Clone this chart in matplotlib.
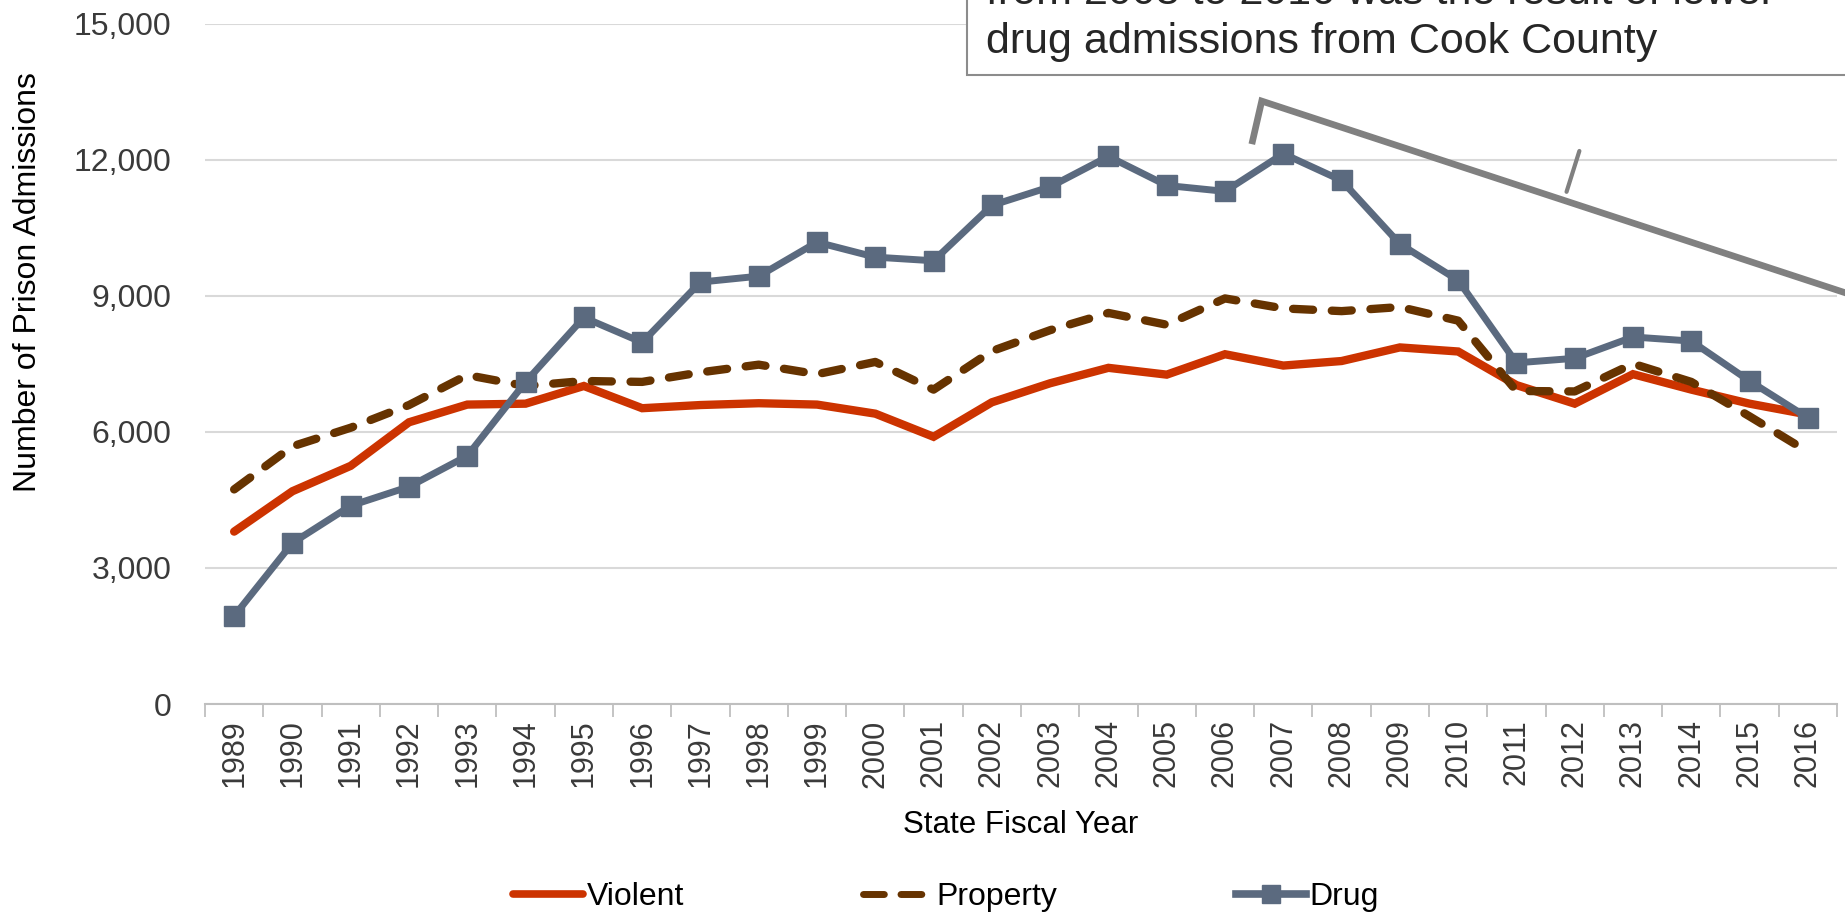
import numpy as np
import matplotlib
matplotlib.use('Agg')
import matplotlib.pyplot as plt
from matplotlib.lines import Line2D
from matplotlib.patches import Rectangle

plt.rcParams['font.family'] = ['Liberation Sans', 'DejaVu Sans']

years = list(range(1989, 2017))
violent = [3800, 4690, 5250, 6210, 6600, 6620, 7010, 6520, 6590, 6630, 6600, 6400, 5890, 6650, 7070,
           7410, 7260, 7710, 7460, 7560, 7860, 7770, 7030, 6620, 7270, 6930, 6620, 6380]
prop = [4730, 5680, 6090, 6590, 7250, 7010, 7120, 7100, 7310, 7480, 7270, 7540, 6930, 7780, 8240,
        8620, 8360, 8940, 8720, 8660, 8750, 8450, 6900, 6890, 7500, 7100, 6340, 5560]
drug = [1940, 3550, 4370, 4790, 5470, 7100, 8520, 7970, 9300, 9430, 10180, 9850, 9770, 10990, 11400,
        12070, 11430, 11300, 12130, 11540, 10140, 9340, 7520, 7620, 8090, 8000, 7120, 6310]
yticks = [0, 3000, 6000, 9000, 12000, 15000]
note_lines = ["from 2008 to 2016 was the result of lower", "drug admissions from Cook County"]

c_violent = "#CC3300"
c_prop = "#663300"
c_drug = "#5B6A7F"
tick_col = "#3a3a3a"

fig = plt.figure(figsize=(18.45, 9.15), dpi=100)
ax = fig.add_axes([205/1845, 1-704/915, (1837-205)/1845, (704-23.5)/915])

ax.plot(years, violent, color=c_violent, lw=6, solid_capstyle='round', solid_joinstyle='miter', zorder=3)
ax.plot(years, prop, color=c_prop, lw=6, dashes=(2.4, 2.25), dash_capstyle='round', zorder=3)
ax.plot(years, drug, color=c_drug, lw=5, marker='s', markersize=14, zorder=4)

ax.set_xlim(1988.5, 2016.5)
ax.set_ylim(0, 15000)
ax.set_yticks(yticks)
ax.set_yticklabels(["{:,}".format(v) for v in yticks])
ax.set_xticks(years)
ax.set_xticklabels([str(y) for y in years], rotation=90)
ax.set_xticks(np.arange(1988.5, 2017, 1), minor=True)
ax.tick_params(axis='x', which='major', length=0, pad=11, labelsize=22, labelcolor=tick_col)
ax.tick_params(axis='x', which='minor', length=9, width=1.3, color='#BFBFBF', direction='out')
ax.tick_params(axis='y', length=0, pad=24, labelsize=23, labelcolor=tick_col)
ax.grid(axis='y', color='#D9D9D9', lw=1.5)
ax.set_axisbelow(True)
for s in ['left', 'right', 'top']:
    ax.spines[s].set_visible(False)
ax.spines['bottom'].set_color('#BFBFBF')
ax.spines['bottom'].set_linewidth(1.5)

ax.set_ylabel("Number of Prison Admissions", fontsize=23)
ax.yaxis.set_label_coords(-0.0995, 0.62)
ax.set_xlabel("State Fiscal Year", fontsize=22.5, labelpad=16)

# callout box (runs off the top/right of the figure)
box = Rectangle((967/1845, 1-75/915), 0.6, 0.3, transform=fig.transFigure,
                facecolor='white', edgecolor='#8c8c8c', lw=1.5, zorder=10)
fig.patches.append(box)
fig.text(986/1845, 1-42/915, note_lines[1], fontsize=31, color='#262626', va='center', zorder=11)
fig.text(986/1845, 1+7/915, note_lines[0], fontsize=31, color='#262626', va='center', zorder=11)

# bracket over the 2008-2016 decline
ax.plot([2006.46, 2006.63, 2017.6], [12340, 13290, 8660], color='#808080', lw=4.8,
        clip_on=False, solid_capstyle='butt', solid_joinstyle='miter', zorder=5)
ax.plot([2011.86, 2012.08], [11290, 12190], color='#808080', lw=3, clip_on=False,
        solid_capstyle='round', zorder=5)

handles = [Line2D([], [], color=c_violent, lw=5.5, solid_capstyle='round'),
           Line2D([], [], color=c_prop, lw=5, dashes=(3.0, 2.4), dash_capstyle='round'),
           Line2D([], [], color=c_drug, lw=5.5, marker='s', markersize=13)]
fig.legend(handles, ["Violent", "Property", "Drug"], loc='center', bbox_to_anchor=(946/1845, 1-897/915),
           ncol=3, frameon=False, fontsize=23, handlelength=2.2, handletextpad=0.1, columnspacing=5.6)

fig.savefig("out.png", dpi=100)
